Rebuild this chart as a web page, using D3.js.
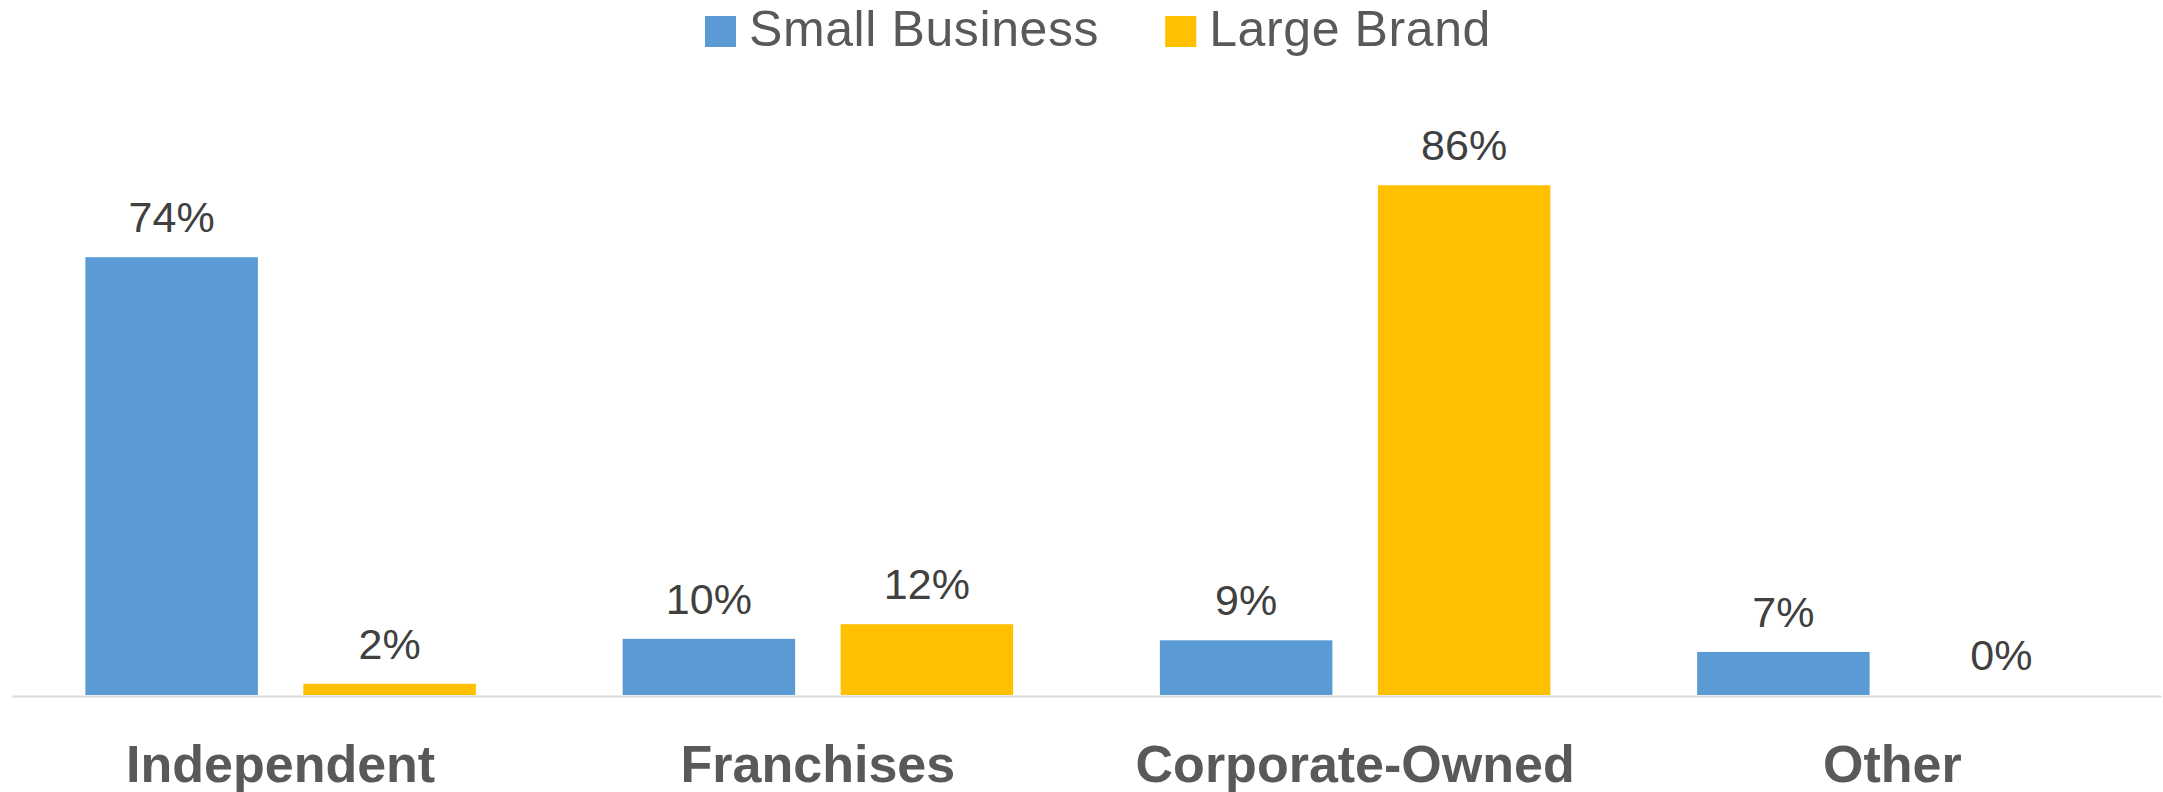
<!DOCTYPE html>
<html>
<head>
<meta charset="utf-8">
<script src="https://cdn.jsdelivr.net/npm/d3@7"></script>
<style>
  html, body { margin: 0; padding: 0; background: #ffffff; }
  svg { display: block; }
</style>
</head>
<body>
<svg id="chart" width="2163" height="792"></svg>
<script>
// ---- Data ----
const categories = ["Independent", "Franchises", "Corporate-Owned", "Other"];
const seriesNames = ["Small Business", "Large Brand"];
const smallBusiness = [0.742, 0.0952, 0.0927, 0.073];
const largeBrand = [0.019, 0.120, 0.864, 0.0];
const seriesColors = ["#5B9BD5", "#FFC000"];

const W = 2163, H = 792;
const svg = d3.select("#chart");

const x0 = d3.scaleBand().domain(categories).range([12, 2161]).paddingInner(0.2732).paddingOuter(0.1366);
const x1 = d3.scaleBand().domain(seriesNames).range([0, x0.bandwidth()]).paddingInner(0.2087).paddingOuter(0);
const y = d3.scaleLinear().domain([0, 1]).range([695, 105]);

const rows = categories.map((c, i) => ({
  cat: c,
  vals: [
    { s: seriesNames[0], v: smallBusiness[i], color: seriesColors[0] },
    { s: seriesNames[1], v: largeBrand[i], color: seriesColors[1] }
  ]
}));

const fmt = d3.format(".0%");

const groups = svg.selectAll("g.cat").data(rows).join("g")
  .attr("class", "cat")
  .attr("transform", d => `translate(${x0(d.cat)},0)`);

groups.selectAll("rect").data(d => d.vals).join("rect")
  .attr("x", d => x1(d.s))
  .attr("width", x1.bandwidth())
  .attr("y", d => y(d.v))
  .attr("height", d => y(0) - y(d.v))
  .attr("fill", d => d.color);

groups.selectAll("text.lbl").data(d => d.vals).join("text")
  .attr("class", "lbl")
  .attr("x", d => x1(d.s) + x1.bandwidth() / 2)
  .attr("y", d => y(d.v) - 25)
  .attr("text-anchor", "middle")
  .attr("font-family", "'Liberation Sans', Arial, sans-serif")
  .attr("font-size", 43)
  .attr("fill", "#404040")
  .text(d => fmt(d.v));

// axis line
const xAxis = d3.axisBottom(x0).tickSize(0).tickPadding(0);
const axisG = svg.append("g").attr("transform", `translate(0,${y(0) + 1})`).call(xAxis);
axisG.select(".domain").attr("stroke", "#D9D9D9").attr("stroke-width", 2);
axisG.selectAll(".tick text")
  .attr("y", 86)
  .attr("dy", 0)
  .attr("font-family", "'Liberation Sans', Arial, sans-serif")
  .attr("font-weight", "bold")
  .attr("font-size", 52)
  .attr("fill", "#595959");

// legend
const legend = svg.append("g").attr("class", "legend");
let lx = 705;
seriesNames.forEach((name, i) => {
  legend.append("rect")
    .attr("x", lx).attr("y", 16).attr("width", 31).attr("height", 31)
    .attr("fill", seriesColors[i]);
  const t = legend.append("text")
    .attr("x", lx + 44).attr("y", 46)
    .attr("font-family", "'Liberation Sans', Arial, sans-serif")
    .attr("font-size", 50)
    .attr("letter-spacing", 0.6)
    .attr("fill", "#595959")
    .text(name);
  lx = lx + 44 + t.node().getComputedTextLength() + 66;
});
</script>
</body>
</html>
